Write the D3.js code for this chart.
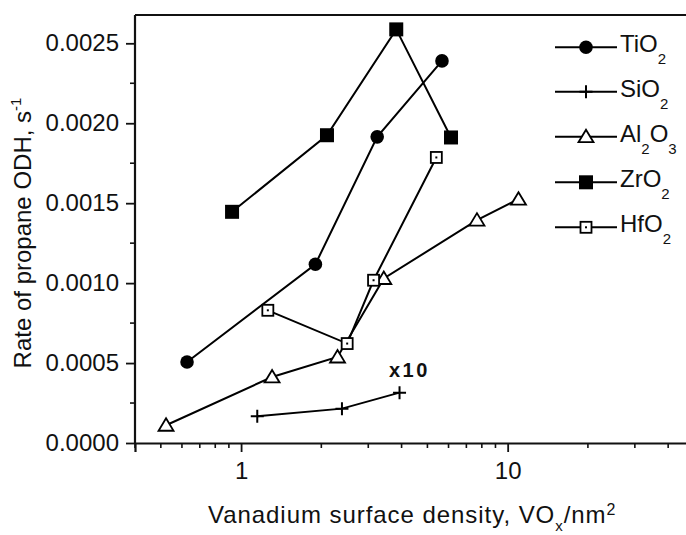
<!DOCTYPE html>
<html><head><meta charset="utf-8">
<script src="https://cdn.jsdelivr.net/npm/d3@7"></script>
<style>
html,body{margin:0;padding:0;background:#fff;}
svg{display:block;font-family:"Liberation Sans",Arial,sans-serif;}
</style></head>
<body>
<svg id="c" width="686" height="535"></svg>
<script>
// ---- data ----
const seriesNames = ["TiO2","SiO2","Al2O3","ZrO2","HfO2"];
const tiO2X = [0.627, 1.90, 3.24, 5.67];
const tiO2Y = [0.000507, 0.001118, 0.001915, 0.00239];
const siO2X = [1.15, 2.39, 3.93];
const siO2Y = [0.000167, 0.000215, 0.000315];
const al2O3X = [0.523, 1.307, 2.30, 3.43, 7.67, 10.98];
const al2O3Y = [0.000111, 0.000413, 0.000538, 0.001029, 0.001394, 0.001525];
const zrO2X = [0.925, 2.10, 3.82, 6.13];
const zrO2Y = [0.001446, 0.001925, 0.002587, 0.001911];
const hfO2X = [1.26, 2.50, 3.14, 5.40];
const hfO2Y = [0.00083, 0.000622, 0.001018, 0.001786];
const yTickValues = [0, 0.0005, 0.0010, 0.0015, 0.0020, 0.0025];
const yTickLabels = ["0.0000","0.0005","0.0010","0.0015","0.0020","0.0025"];
const xTickLabels = ["1","10"];
const xTickValues = [1, 10];

const series = [
  {name:"TiO2", base:"TiO", sub:"2", xs:tiO2X, ys:tiO2Y, marker:"circle"},
  {name:"SiO2", base:"SiO", sub:"2", xs:siO2X, ys:siO2Y, marker:"plus"},
  {name:"Al2O3", base:null, xs:al2O3X, ys:al2O3Y, marker:"triangle"},
  {name:"ZrO2", base:"ZrO", sub:"2", xs:zrO2X, ys:zrO2Y, marker:"fsquare"},
  {name:"HfO2", base:"HfO", sub:"2", xs:hfO2X, ys:hfO2Y, marker:"osquare"}
];

const svg = d3.select("#c");
const x = d3.scaleLog().domain([0.4, 50]).range([135, 694]);
const y = d3.scaleLinear().domain([0, 0.0025]).range([443, 43.3]);
const yTop = 15;
const fs = 24;
const ink = "#111";

// frame
svg.append("line").attr("x1",135).attr("x2",694).attr("y1",yTop).attr("y2",yTop)
 .attr("stroke",ink).attr("stroke-width",2.2);
svg.append("line").attr("x1",694).attr("x2",694).attr("y1",yTop).attr("y2",443)
 .attr("stroke",ink).attr("stroke-width",2);

// x axis
const xMinor = [0.4,0.5,0.6,0.7,0.8,0.9,2,3,4,5,6,7,8,9,20,30,40,50];
const xAxis = d3.axisBottom(x).tickValues(xTickValues).tickFormat((d,i)=>xTickLabels[i])
  .tickSizeOuter(0).tickSize(9).tickPadding(10);
const gx = svg.append("g").attr("transform","translate(0,443)").call(xAxis);
gx.append("g").selectAll("line").data(xMinor).join("line")
  .attr("x1",d=>x(d)).attr("x2",d=>x(d)).attr("y1",0).attr("y2",5)
  .attr("stroke",ink).attr("stroke-width",1.6);
gx.select(".domain").attr("stroke",ink).attr("stroke-width",2.2);
gx.selectAll(".tick line").attr("stroke",ink).attr("stroke-width",1.8);
gx.selectAll(".tick text").attr("font-size",fs).attr("fill",ink).attr("font-family","Liberation Sans, Arial, sans-serif");

// y axis
const yAxis = d3.axisLeft(y).tickValues(yTickValues).tickFormat((d,i)=>yTickLabels[i])
  .tickSizeOuter(0).tickSize(9).tickPadding(7);
const gy = svg.append("g").attr("transform","translate(135,0)").call(yAxis);
gy.select(".domain").attr("d",`M0,${yTop}V443`).attr("stroke",ink).attr("stroke-width",2.2);
const yMinor = [0.00025,0.00075,0.00125,0.00175,0.00225];
gy.append("g").selectAll("line").data(yMinor).join("line")
  .attr("x1",-5).attr("x2",0).attr("y1",d=>y(d)).attr("y2",d=>y(d))
  .attr("stroke",ink).attr("stroke-width",1.6);
gy.selectAll(".tick line").attr("stroke",ink).attr("stroke-width",1.8);
gy.selectAll(".tick text").attr("font-size",fs).attr("fill",ink).attr("font-family","Liberation Sans, Arial, sans-serif");

// axis titles
const yl = svg.append("text").attr("transform","translate(31,233) rotate(-90)")
  .attr("text-anchor","middle").attr("font-size",fs).attr("fill",ink);
yl.append("tspan").text("Rate of propane ODH, s");
yl.append("tspan").attr("dy",-10).attr("font-size",15).text("-1");

const xl = svg.append("text").attr("x",208).attr("y",523).attr("text-anchor","start")
  .attr("font-size",fs).attr("fill",ink).attr("letter-spacing",0.95);
xl.append("tspan").text("Vanadium surface density, VO");
xl.append("tspan").attr("dy",8).attr("font-size",15).text("x");
xl.append("tspan").attr("dy",-8).text("/nm");
xl.append("tspan").attr("dy",-8).attr("font-size",16).text("2");

// markers
function drawMarker(sel, type, cx, cy){
  if(type==="circle"){
    sel.append("circle").attr("cx",cx).attr("cy",cy).attr("r",6.8).attr("fill","#000");
  } else if(type==="plus"){
    sel.append("path").attr("d",`M${cx-6.5},${cy}H${cx+6.5}M${cx},${cy-6.5}V${cy+6.5}`)
      .attr("stroke","#000").attr("stroke-width",2).attr("fill","none");
  } else if(type==="triangle"){
    sel.append("path").attr("d",`M${cx},${cy-7}L${cx+7.5},${cy+5.5}L${cx-7.5},${cy+5.5}Z`)
      .attr("stroke","#000").attr("stroke-width",1.8).attr("fill","#fff");
  } else if(type==="fsquare"){
    sel.append("rect").attr("x",cx-7).attr("y",cy-7).attr("width",14).attr("height",14).attr("fill","#000");
  } else if(type==="osquare"){
    sel.append("rect").attr("x",cx-5.5).attr("y",cy-5.5).attr("width",11).attr("height",11)
      .attr("fill","#fff").attr("stroke","#000").attr("stroke-width",1.8);
    sel.append("rect").attr("x",cx-1).attr("y",cy-1).attr("width",2).attr("height",2).attr("fill","#000");
  }
}

const line = d3.line().x(d=>x(d[0])).y(d=>y(d[1]));
const plot = svg.append("g");
series.forEach(s=>{
  const pts = s.xs.map((v,i)=>[v,s.ys[i]]);
  plot.append("path").datum(pts).attr("d",line).attr("fill","none")
    .attr("stroke","#000").attr("stroke-width",2);
});
series.forEach(s=>{
  const pts = s.xs.map((v,i)=>[v,s.ys[i]]);
  const mg = plot.append("g");
  pts.forEach(p=>drawMarker(mg, s.marker, x(p[0]), y(p[1])));
});

// x10 annotation
svg.append("text").attr("x",389).attr("y",377).attr("text-anchor","start")
  .attr("font-size",20).attr("font-weight","bold").attr("letter-spacing",2.5).attr("fill",ink).text("x10");

// legend
const legY = [47.3, 91.7, 136.7, 182.3, 227.3];
const lg = svg.append("g");
series.forEach((s,i)=>{
  const ly = legY[i];
  lg.append("line").attr("x1",555).attr("x2",617).attr("y1",ly).attr("y2",ly)
    .attr("stroke","#000").attr("stroke-width",2);
  drawMarker(lg, s.marker, 586, ly);
  const t = lg.append("text").attr("x",620).attr("y",ly+5).attr("font-size",fs).attr("fill",ink);
  if(s.base){
    t.append("tspan").text(s.base);
    t.append("tspan").attr("dy",12).attr("font-size",15).text(s.sub);
  } else {
    t.append("tspan").text("Al");
    t.append("tspan").attr("dy",12).attr("font-size",15).text("2");
    t.append("tspan").attr("dy",-12).text("O");
    t.append("tspan").attr("dy",12).attr("font-size",15).text("3");
  }
});
</script>
</body></html>
